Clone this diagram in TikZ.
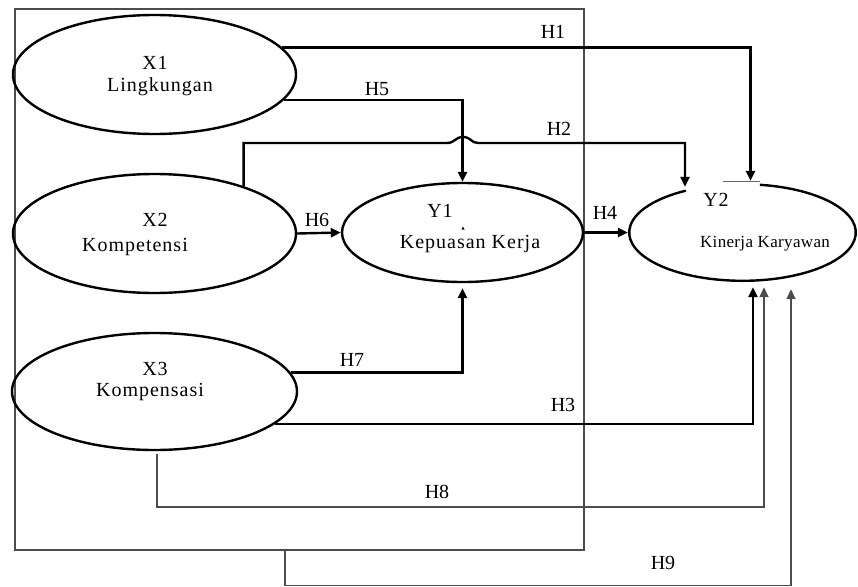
\documentclass[tikz,border=0pt]{standalone}
\usepackage{fontspec}
\setmainfont{Liberation Serif}
\usetikzlibrary{arrows.meta,shapes.geometric}
\begin{document}
\begin{tikzpicture}[x=1pt,y=-1pt,
  heavy/.style={line width=2.4pt,black},
  light/.style={line width=1.6pt,black!70},
  arr/.style={-{Triangle[length=10pt,width=9pt]}},
  ell/.style={ellipse,draw,line width=2.4pt,inner sep=0pt},
  lbl/.style={font=\fontsize{20}{23}\selectfont\addfontfeature{LetterSpace=5},inner sep=0pt},
  hlab/.style={font=\fontsize{20}{23}\selectfont,inner sep=0pt}]
\useasboundingbox (0,0) rectangle (858,586);
% frame
\node[draw,light,minimum width=569pt,minimum height=541pt,anchor=north west,inner sep=0pt] (frame) at (14,8) {};
% latent variables
\node[ell,minimum width=283pt,minimum height=119pt] (x1) at (154.5,74.5) {};
\node[ell,minimum width=283pt,minimum height=119pt] (x2) at (154.5,233.5) {};
\node[ell,minimum width=285pt,minimum height=117pt] (x3) at (154.5,391.5) {};
\node[ell,minimum width=241pt,minimum height=99pt] (y1) at (462.5,232.5) {};
\node[ellipse,inner sep=0pt,minimum width=229pt,minimum height=99pt] (y2) at (742.5,232.5) {};
\draw[line width=2.4pt] ([shift={(81.2:113.3pt and 48.3pt)}]y2.center)
  arc[start angle=81.2,end angle=-240,x radius=113.3pt,y radius=48.3pt];
\draw[line width=1.2pt,black!60] ([xshift=-19.5pt,yshift=1pt]y2.north) -- ([xshift=17.5pt,yshift=1pt]y2.north);
% texts
\node[lbl] (tx1) at (155,63) {X1};
\node[lbl] (tx1b) at (160,87) {Lingkungan};
\node[lbl] (tx2) at (155,220) {X2};
\node[lbl] (tx2b) at (135,247) {Kompetensi};
\node[lbl] (tx3) at (155,369) {X3};
\node[lbl] (tx3b) at (150,392) {Kompensasi};
\node[lbl] (ty1) at (440,211) {Y1};
\node[lbl] (ty1b) at (470,244) {Kepuasan Kerja};
\node[lbl] (ty2) at (716,200) {Y2};
\node[font=\fontsize{17}{20}\selectfont\addfontfeature{LetterSpace=2},inner sep=0pt] (ty2b) at (765,244) {Kinerja Karyawan};
\fill (461.5,229.5) -- (464.5,229.5) -- (463,226.5) -- cycle;
% connectors
\draw[heavy,arr] (x1.12) -| ([xshift=8pt,yshift=2pt]y2.north);
\draw[heavy,arr] (x1.-11) -| (y1.north);
\draw[heavy,arr] (x2.28) |- (447,143) .. controls (455,143) and (455,137) .. (463,137)
  .. controls (471,137) and (471,143) .. (478,143) -| ([xshift=-57.5pt,yshift=-4pt]y2.north);
\draw[heavy,arr] (x2.east) -- (y1.west);
\draw[heavy,arr] (y1.east) -- (y2.west);
\draw[heavy,arr] (x3.8) -| ([yshift=-5pt]y1.south);
\draw[heavy,arr] (x3.-15) -| ([xshift=10.5pt,yshift=-5pt]y2.south);
\draw[light,arr] ([xshift=2.5pt,yshift=-3pt]x3.south) -- ++(0,53) -| ([xshift=21.5pt,yshift=-5pt]y2.south);
\draw[light,arr] ([xshift=-14.5pt]frame.south) -- ++(0,35) -| ([xshift=48.5pt,yshift=-7pt]y2.south);
% hypothesis labels
\node[hlab] (h1) at (553,32) {H1};
\node[hlab] (h2) at (559,129) {H2};
\node[hlab] (h3) at (563,405) {H3};
\node[hlab] (h4) at (605,213) {H4};
\node[hlab] (h5) at (377,89) {H5};
\node[hlab] (h6) at (317,220) {H6};
\node[hlab] (h7) at (352,360) {H7};
\node[hlab] (h8) at (437,492) {H8};
\node[hlab] (h9) at (663,563) {H9};
\end{tikzpicture}
\end{document}
